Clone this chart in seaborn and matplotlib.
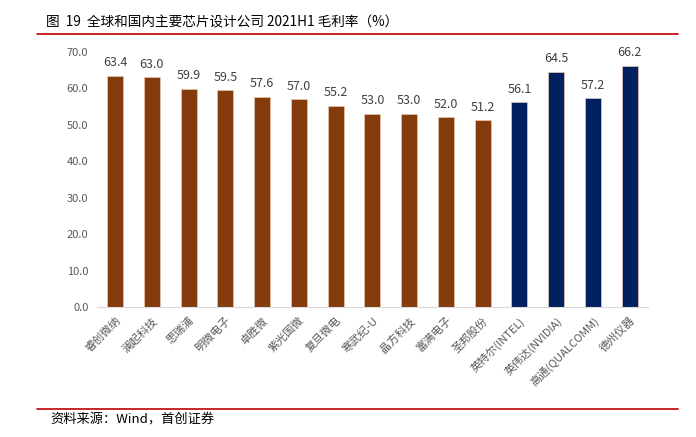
import pandas as pd
import numpy as np
import matplotlib.pyplot as plt
import seaborn as sns

# data
companies = ["睿创微纳", "澜起科技", "思瑞浦", "明微电子", "卓胜微", "紫光国微", "复旦微电",
             "寒武纪-U", "晶方科技", "富满电子", "圣邦股份",
             "英特尔(INTEL)", "英伟达(NVIDIA)", "高通(QUALCOMM)", "德州仪器"]
margins = [63.4, 63.0, 59.9, 59.5, 57.6, 57.0, 55.2, 53.0, 53.0, 52.0, 51.2,
           56.1, 64.5, 57.2, 66.2]
groups = ["domestic"] * 11 + ["global"] * 4
yticks = [0, 10, 20, 30, 40, 50, 60, 70]

df = pd.DataFrame({"company": companies, "margin": margins, "group": groups})

sns.set_style("white")
plt.rcParams["font.family"] = ["Noto Sans CJK SC", "DejaVu Sans"]

fig = plt.figure(figsize=(6.96, 4.37), dpi=100)
ax = fig.add_axes([0.139, 0.2975, 0.792, 0.584])

palette = {"domestic": "#843C0C", "global": "#002060"}
sns.barplot(data=df, x="company", y="margin", hue="group", palette=palette,
            dodge=False, width=0.44, saturation=1, legend=False,
            edgecolor="#E8C8B0", linewidth=0.5, ax=ax)

for i, v in enumerate(margins):
    ax.text(i, v + 1.8, f"{v:.1f}", ha="center", va="bottom", fontsize=9, color="#404040")

ax.set_ylim(0, 70)
ax.set_xlim(-0.5, len(companies) - 0.5)
ax.set_yticks(yticks)
ax.set_yticklabels([f"{t:.1f}" for t in yticks], fontsize=8, color="#595959")
ax.set_xticks(range(len(companies)))
ax.set_xticklabels(companies, rotation=45, ha="right", rotation_mode="anchor",
                   fontsize=8, color="#595959")
ax.tick_params(axis="both", length=0, pad=6)
ax.set_xlabel("")
ax.set_ylabel("")
for s in ["top", "right", "left"]:
    ax.spines[s].set_visible(False)
ax.spines["bottom"].set_color("#D9D9D9")

# title, rules and source note
fig.text(0.066, 0.949, "图  19  全球和国内主要芯片设计公司 2021H1 毛利率（%）",
         fontsize=9.8, color="#000000", va="center")
fig.add_artist(plt.Line2D([0.053, 0.974], [0.922, 0.922], color="#C00000", lw=1.2))
fig.add_artist(plt.Line2D([0.053, 0.974], [0.064, 0.064], color="#C00000", lw=1.2))
fig.text(0.072, 0.039, "资料来源：Wind，首创证券", fontsize=9.5, style="italic",
         color="#000000", va="center")

plt.savefig("out.png", dpi=100)
plt.close()
